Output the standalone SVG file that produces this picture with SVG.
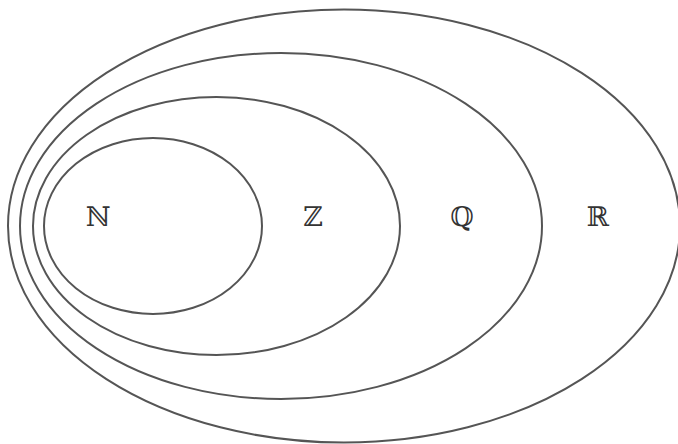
<svg xmlns="http://www.w3.org/2000/svg" width="678" height="444" viewBox="0 0 678 444">
<style>
.set{fill:none;stroke:#555;stroke-width:2}
.lbl{font-family:"DejaVu Serif","Liberation Serif",serif;font-size:27px;fill:#333;text-anchor:middle}
</style>
<rect width="678" height="444" fill="#fff"/>
<g id="R"><ellipse class="set" cx="344" cy="226" rx="336" ry="216.5"/><text class="lbl" x="598" y="226">ℝ</text></g>
<g id="Q"><ellipse class="set" cx="281" cy="226" rx="261" ry="173"/><text class="lbl" x="462" y="226">ℚ</text></g>
<g id="Z"><ellipse class="set" cx="216.5" cy="226" rx="183.5" ry="129"/><text class="lbl" x="313" y="226">ℤ</text></g>
<g id="N"><ellipse class="set" cx="153" cy="226" rx="109" ry="88"/><text class="lbl" x="98" y="226">ℕ</text></g>
<g id="connectors"/>
</svg>
